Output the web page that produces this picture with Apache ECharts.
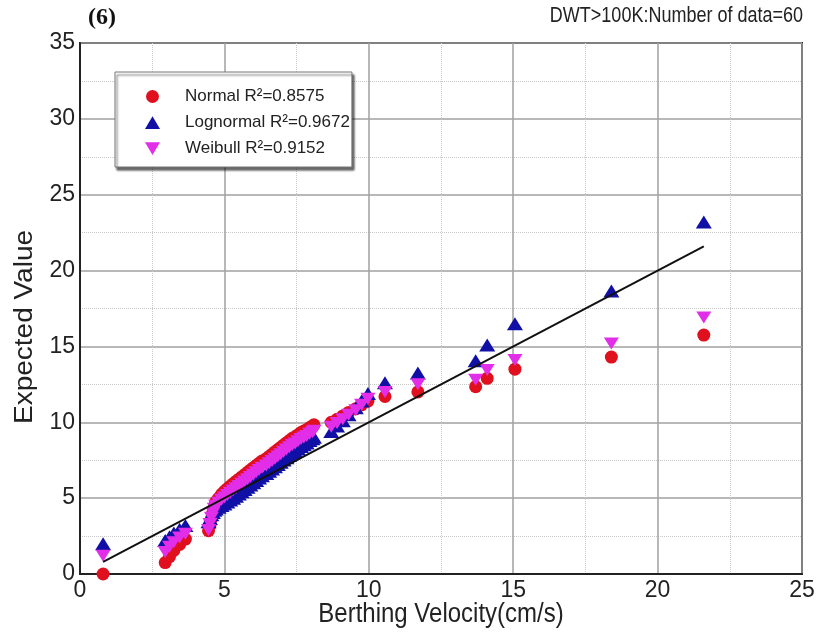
<!DOCTYPE html>
<html>
<head>
<meta charset="utf-8">
<script src="https://cdn.jsdelivr.net/npm/echarts@6/dist/echarts.min.js"></script>
<style>
html,body{margin:0;padding:0;background:#fff;}
#chart{width:818px;height:640px;}
</style>
</head>
<body>
<div id="chart"></div>
<script>
// Berthing velocity (cm/s), sorted, n = 60
var velocity = [0.8,
  2.95,3.1,3.25,3.45,3.65,
  4.45,4.5,4.55,4.6,4.65,4.7,4.8,4.9,5.0,5.1,5.2,5.3,5.4,5.5,5.6,5.7,5.8,5.9,6.0,6.1,6.2,6.3,6.45,6.55,6.65,6.75,6.85,6.95,7.05,7.15,7.25,7.35,7.45,7.55,7.65,7.75,7.85,7.95,8.05,8.1,
  8.7,8.9,9.1,9.3,9.55,9.75,9.97,
  10.56,11.7,13.7,14.1,15.06,18.4,21.6];
var normalExp = [0.0,
  0.75,1.15,1.55,1.95,2.3,
  2.85,3.2,3.65,4.05,4.45,4.75,5.0,5.25,5.45,5.62,5.79,5.95,6.1,6.25,6.4,6.55,6.7,6.85,7.0,7.15,7.3,7.45,7.6,7.75,7.9,8.05,8.2,8.35,8.5,8.65,8.8,8.94,9.04,9.18,9.32,9.42,9.51,9.65,9.74,9.83,
  10.0,10.2,10.42,10.65,10.9,11.15,11.4,
  11.7,12.0,12.35,12.9,13.5,14.3,15.75];
var lognormalExp = [2.0,
  2.2,2.45,2.7,2.95,3.2,
  3.45,3.65,3.9,4.05,4.2,4.28,4.4,4.52,4.62,4.74,4.87,5.0,5.13,5.27,5.42,5.57,5.72,5.87,6.02,6.17,6.32,6.47,6.62,6.77,6.92,7.07,7.22,7.37,7.52,7.67,7.82,7.97,8.08,8.24,8.4,8.52,8.64,8.8,8.92,9.02,
  9.4,9.75,10.1,10.5,10.95,11.4,11.9,
  12.6,13.25,14.05,15.1,16.5,18.65,23.2];
var weibullExp = [1.2,
  1.45,1.8,2.1,2.4,2.65,
  2.9,3.3,3.7,4.0,4.3,4.5,4.7,4.9,5.05,5.2,5.35,5.5,5.65,5.8,5.95,6.1,6.25,6.4,6.55,6.7,6.85,7.0,7.15,7.3,7.45,7.6,7.75,7.9,8.05,8.2,8.35,8.5,8.6,8.75,8.9,9.0,9.1,9.25,9.35,9.45,
  9.7,9.95,10.2,10.5,10.8,11.15,11.55,
  12.0,12.5,12.8,13.45,14.1,15.2,16.9];
var refLineX = [0.8, 21.6];
var refLineY = [0.8, 21.6];
var seriesNames = ['Normal R\u00B2=0.8575', 'Lognormal R\u00B2=0.9672', 'Weibull R\u00B2=0.9152'];
var titleLeft = '(6)';
var titleRight = 'DWT>100K:Number of data=60';
var xName = 'Berthing Velocity(cm/s)';
var yName = 'Expected Value';

function pairs(xs, ys){ return xs.map(function(v,i){ return [v, ys[i]]; }); }

var font = 'Liberation Sans, Arial, sans-serif';
var chart = echarts.init(document.getElementById('chart'));
chart.setOption({
  animation: false,
  backgroundColor: '#fff',
  title: [
    {text: titleLeft, left: 83, top: 1, textStyle: {fontFamily: 'Liberation Serif, Times New Roman, serif', fontWeight: 'bold', fontSize: 24, color: '#111'}}
  ],
  graphic: [
    {type: 'text', x: 803, y: 16, scaleY: 1.18,
     style: {text: titleRight, fontFamily: font, fontSize: 18, fill: '#222', align: 'right', verticalAlign: 'middle'}},
    {type: 'text', x: 25, y: 327, rotation: Math.PI / 2, scaleX: 1.12,
     style: {text: yName, fontFamily: font, fontSize: 25, fill: '#222', align: 'center', verticalAlign: 'middle'}},
    {type: 'text', x: 441, y: 615, scaleY: 1.12,
     style: {text: xName, fontFamily: font, fontSize: 24, fill: '#222', align: 'center', verticalAlign: 'middle'}}
  ],
  grid: {left: 80, right: 16, top: 43, bottom: 66, show: true, borderColor: '#222', borderWidth: 2, backgroundColor: 'transparent'},
  legend: {
    orient: 'vertical', left: 115, top: 72,
    data: seriesNames,
    itemWidth: 15, itemHeight: 13, itemGap: 9,
    padding: [16, 2, 10, 30],
    backgroundColor: '#fff', borderColor: '#777', borderWidth: 1,
    shadowColor: 'rgba(0,0,0,0.6)', shadowBlur: 2, shadowOffsetX: 2, shadowOffsetY: 3,
    textStyle: {fontFamily: font, fontSize: 17, color: '#222', padding: [0,0,0,20]}
  },
  xAxis: {
    type: 'value', min: 0, max: 25, interval: 5,
    axisLine: {show: true, lineStyle: {color: '#222', width: 2}},
    axisTick: {show: false},
    axisLabel: {fontFamily: font, fontSize: 23, color: '#222', margin: 5},
    splitLine: {show: true, lineStyle: {color: '#a0a0a0', width: 1.5}},
    minorTick: {show: false, splitNumber: 2},
    minorSplitLine: {show: true, lineStyle: {color: '#c8c8c8', width: 1, type: 'dotted'}}
  },
  yAxis: {
    type: 'value', min: 0, max: 35, interval: 5,
    axisLine: {show: true, lineStyle: {color: '#222', width: 2}},
    axisTick: {show: false},
    axisLabel: {fontFamily: font, fontSize: 23, color: '#222', margin: 5},
    splitLine: {show: true, lineStyle: {color: '#a0a0a0', width: 1.5}},
    minorTick: {show: false, splitNumber: 2},
    minorSplitLine: {show: true, lineStyle: {color: '#c8c8c8', width: 1, type: 'dotted'}}
  },
  series: [
    {type: 'line', data: pairs(refLineX, refLineY), symbol: 'none', silent: true,
     lineStyle: {color: '#111', width: 2}, z: 5},
    {name: seriesNames[0], type: 'scatter', data: pairs(velocity, normalExp),
     symbol: 'circle', symbolSize: 13, itemStyle: {color: '#e0101e', opacity: 1}, z: 2},
    {name: seriesNames[1], type: 'scatter', data: pairs(velocity, lognormalExp),
     symbol: 'path://M1,0L2,1.7L0,1.7Z', symbolSize: [16, 13], itemStyle: {color: '#1010a6', opacity: 1}, z: 3},
    {name: seriesNames[2], type: 'scatter', data: pairs(velocity, weibullExp),
     symbol: 'path://M0,0L2,0L1,1.7Z', symbolSize: [15, 12], itemStyle: {color: '#e22ee8', opacity: 1}, z: 4}
  ]
});
</script>
</body>
</html>
